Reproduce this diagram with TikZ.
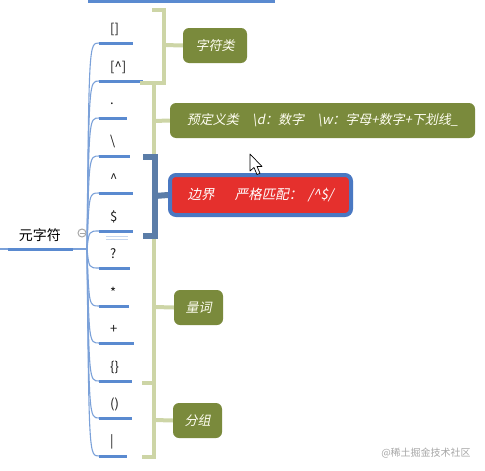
\documentclass[tikz,border=0pt]{standalone}
\usepackage{fontspec}
\setmainfont{Noto Sans CJK SC}
\newfontfamily\cjkit[FakeSlant=0.2]{Noto Sans CJK SC}
\definecolor{ul}{HTML}{5A8AD0}
\definecolor{brk}{HTML}{CDD5A6}
\definecolor{olivef}{HTML}{7A8A3C}
\definecolor{bbrk}{HTML}{5B7DA8}
\definecolor{redf}{HTML}{E5302D}
\definecolor{redb}{HTML}{4A78C2}
\tikzset{
  itemtxt/.style={font=\fontsize{13}{15}\selectfont, text=black!90, inner sep=0pt, anchor=west},
  twig/.style={draw=ul!80, line width=1.1pt},
  uline/.style={draw=ul, line width=3pt},
  brkline/.style={draw=brk, line width=4pt},
  bbrkline/.style={draw=bbrk, line width=6pt},
  topic/.style={fill=olivef, rounded corners=6pt, text=white!95!yellow, font=\cjkit\fontsize{13}{15}\selectfont, minimum height=35pt, inner sep=0pt},
  redtopic/.style={fill=redf, draw=redb, line width=4pt, rounded corners=6pt, text=white, font=\cjkit\fontsize{13.5}{15}\selectfont, minimum width=181pt, minimum height=40pt, inner sep=0pt},
}
\begin{document}
\begin{tikzpicture}[x=1pt,y=-1pt]
\useasboundingbox (0,0) rectangle (485,471);
% top cut-off bar
\draw[uline] (88,1.5) -- (275,1.5);
% root
\node[font=\fontsize{14}{16}\selectfont, inner sep=0pt] (root) at (40,235) {元字符};
\coordinate (rootL) at (0,249);
\coordinate (rootS) at (8,249);
\coordinate (rootE) at (73,249);
\coordinate (hub) at (87,249);
\draw[twig] (rootL) -- (hub);
\draw[uline] (rootS) -- (rootE);
\node[draw=gray!70, line width=1pt, circle, minimum size=8pt, inner sep=0pt] (col) at (82,233) {};
\draw[gray!70, line width=0.9pt] (79.5,233) -- (84.5,233);

% items
\newcommand{\branch}[4]{% name, y, x-end, text
  \coordinate (#1s) at (99,#2);
  \coordinate (#1e) at (#3,#2);
  \node[itemtxt] (#1) at (110,#2-14) {#4};
  \draw[twig] (hub) .. controls (89,#2) and (89,#2) .. (#1s);
  \draw[uline] (#1s) -- (#1e);
}
\branch{a}{43}{133}{[]}
\branch{b}{81}{143}{[\^{}]}
\branch{c}{118}{127}{.}
\branch{d}{156}{130}{\textbackslash}
\branch{e}{193}{133}{\^{}}
\branch{f}{231}{133}{\$}
\branch{g}{268}{130}{?}
\branch{h}{306}{129}{*}
\branch{i}{343}{134}{+}
\branch{j}{381}{132}{\{\}}
\branch{k}{418}{132}{()}
\branch{l}{456}{127}{|}
\draw[ul!35, line width=0.8pt] (106,236) -- (128,236) (106,239) -- (128,239);

% topic nodes
\node[topic, minimum width=64pt] (t1) at (215,45.5) {字符类};
\node[topic, minimum width=305pt] (t2) at (322.5,120.5) {预定义类\quad \textbackslash d：数字\quad \textbackslash w：字母+数字+下划线\_};
\node[redtopic] (t3) at (260.5,195) {边界\hspace{1.5em}严格匹配：\hspace{0.4em}/\^{}\$/};
\node[topic, minimum width=49pt] (t4) at (198.5,307.5) {量词};
\node[topic, minimum width=49pt] (t5) at (197.5,420.5) {分组};

% summary brackets
\draw[brkline] (152,10) -- (164,10) -- (164,83) -- (140,83);
\draw[brkline] (164,45) -- (t1.west);
\draw[brkline] (154,83) -- (154,158);
\draw[brkline] (154,121) -- (t2.west);
\draw[brkline] (154,232) -- (154,383) -- (142,383);
\draw[brkline] (154,307) -- (t4.west);
\draw[brkline] (142,383) -- (154,383) -- (154,457) -- (142,457);
\draw[brkline] (154,420) -- (t5.west);
\draw[bbrkline] (143,157) -- (155,157) -- (155,236) -- (143,236);
\draw[bbrkline] (155,196) -- (t3.west);

% mouse pointer
\draw[black, fill=white, line width=0.7pt, line join=round]
  (250,154) -- (250,171) -- (254,167.5) -- (257,174.5) -- (260,173.2) -- (257,166.5) -- (262,166.5) -- cycle;

% watermark
\node[text=gray!70, font=\fontsize{10}{12}\selectfont, inner sep=0pt] (wm) at (426,453) {@稀土掘金技术社区};
\end{tikzpicture}
\end{document}
